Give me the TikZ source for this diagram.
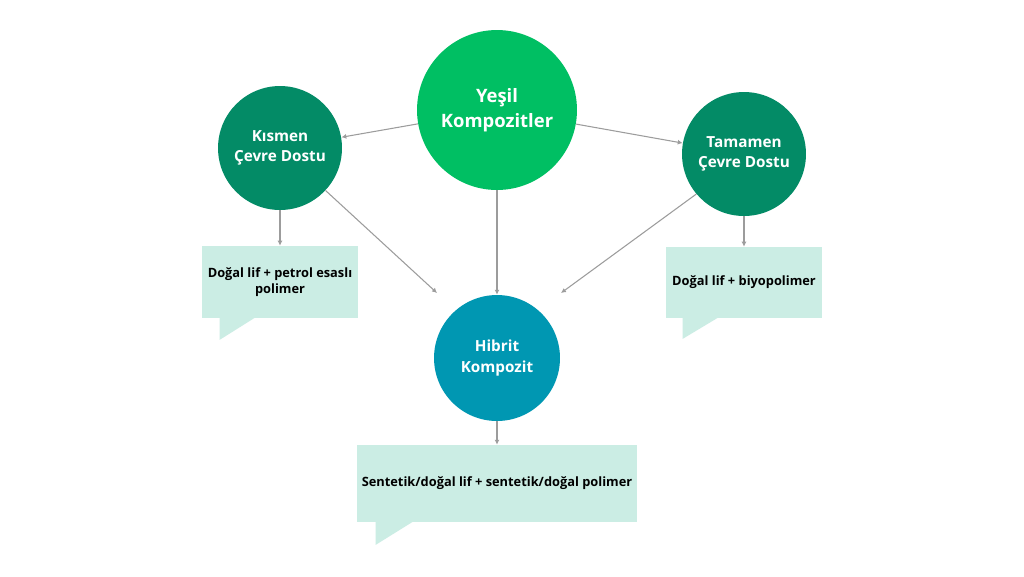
\documentclass[tikz,border=0pt]{standalone}
\usepackage{fontspec}
\setmainfont{Open Sans}
\usepackage{tikz}
\usetikzlibrary{shapes,arrows.meta}
\definecolor{acikyesil}{HTML}{00BF63}
\definecolor{koyuyesil}{HTML}{038B66}
\definecolor{mavi}{HTML}{0097B2}
\definecolor{nane}{HTML}{CBEDE4}
\definecolor{gri}{HTML}{9C9C9C}
\tikzstyle{anadaire} = [circle, fill=acikyesil, text=white, font=\fontsize{10.5}{14.5}\selectfont\bfseries, align=center, minimum size=3.2cm, inner sep=0pt]
\tikzstyle{yandaire} = [circle, fill=koyuyesil, text=white, font=\fontsize{8.7}{11.5}\selectfont\bfseries, align=center, minimum size=2.48cm, inner sep=0pt]
\tikzstyle{hibdaire} = [circle, fill=mavi, text=white, font=\fontsize{8.7}{11.5}\selectfont\bfseries, align=center, minimum size=2.52cm, inner sep=0pt]
\tikzstyle{balon} = [rectangle, fill=nane, text=black, font=\fontsize{7.3}{8.9}\selectfont\bfseries, align=center, inner sep=0pt]
\tikzstyle{ok} = [draw=gri, line width=0.6pt, -{Latex[length=2.8pt,width=2.8pt]}]

\begin{document}
\begin{tikzpicture}[x=0.02cm,y=-0.02cm]
\useasboundingbox[fill=white] (0,0) rectangle (1024,576);

% daireler
\node [anadaire] (yesil) at (497,110) {Yeşil\\Kompozitler};
\node [yandaire] (kismen) at (280,148) {Kısmen\\Çevre Dostu};
\node [yandaire] (tamamen) at (744,154) {Tamamen\\Çevre Dostu};
\node [hibdaire] (hibrit) at (497,358) {Hibrit\\Kompozit};

% konusma balonlari
\node [balon, minimum width=3.12cm, minimum height=1.44cm] (kbalon) at (280,282) {Doğal lif + petrol esaslı\\polimer};
\node [balon, minimum width=3.12cm, minimum height=1.42cm] (tbalon) at (744,282.5) {Doğal lif + biyopolimer};
\node [balon, minimum width=5.6cm, minimum height=1.54cm] (hbalon) at (497,483.5) {Sentetik/doğal lif + sentetik/doğal polimer};
\fill [nane] (kbalon.south west) ++(18,-0.5) -- ++(35,0) -- ++(-35,22) -- cycle;
\fill [nane] (tbalon.south west) ++(17,-0.5) -- ++(35,0) -- ++(-35,21) -- cycle;
\fill [nane] (hbalon.south west) ++(19,-0.5) -- ++(37,0) -- ++(-37,23) -- cycle;

% oklar
\coordinate (sol) at (437,293);
\coordinate (sag) at (561,293);
\draw [ok] (yesil) -- (kismen);
\draw [ok] (yesil) -- (tamamen);
\draw [ok] (yesil) -- (hibrit);
\draw [ok] (kismen.-43) -- (sol);
\draw [ok] (tamamen.-140) -- (sag);
\draw [ok] (kismen) -- (kbalon);
\draw [ok] (tamamen) -- (tbalon);
\draw [ok] (hibrit) -- (hbalon);
\end{tikzpicture}
\end{document}
